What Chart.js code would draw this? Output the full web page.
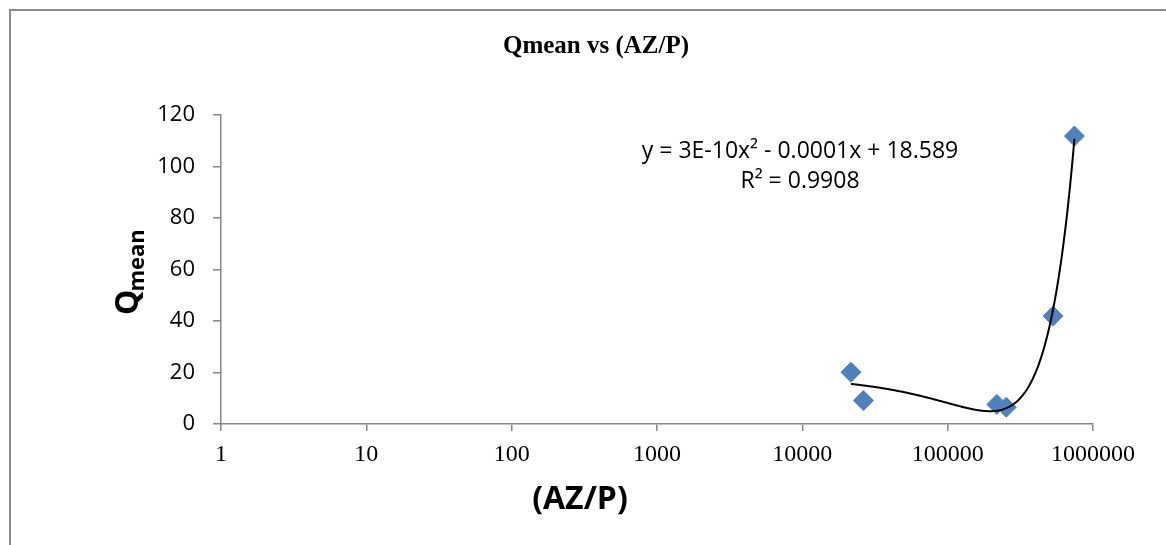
<!DOCTYPE html>
<html>
<head>
<meta charset="utf-8">
<title>Qmean vs (AZ/P)</title>
<script src="https://cdn.jsdelivr.net/npm/chart.js@4.4.1/dist/chart.umd.min.js"></script>
<style>
  html, body { margin: 0; padding: 0; background: #ffffff; }
  #wrap { position: relative; width: 1166px; height: 545px; }
</style>
</head>
<body>
<div id="wrap"><canvas id="chart"></canvas></div>
<script>
// values
const azp = [21600, 26300, 218000, 253000, 531000, 745000];
const qMean = [20.1, 9.1, 7.6, 6.5, 41.9, 111.8];
const xTicks = [1, 10, 100, 1000, 10000, 100000, 1000000];
const yTicks = [0, 20, 40, 60, 80, 100, 120];
const trendText = ['y = 3E-10x² - 0.0001x + 18.589', 'R² = 0.9908'];

const SANS = "'Open Sans', 'DejaVu Sans', sans-serif";
const SERIF = "'Liberation Serif', 'DejaVu Serif', serif";
const AXIS = '#868686';
const MARKER = '#4F81BD';

// least squares quadratic through the points (Excel's poly trendline)
function quadFit(xs, ys) {
  let s = [0, 0, 0, 0, 0], t = [0, 0, 0];
  xs.forEach((x, i) => {
    for (let k = 0; k < 5; k++) s[k] += Math.pow(x, k);
    for (let k = 0; k < 3; k++) t[k] += Math.pow(x, k) * ys[i];
  });
  const m = [[s[0], s[1], s[2]], [s[1], s[2], s[3]], [s[2], s[3], s[4]]];
  const det = a => a[0][0] * (a[1][1] * a[2][2] - a[1][2] * a[2][1])
    - a[0][1] * (a[1][0] * a[2][2] - a[1][2] * a[2][0])
    + a[0][2] * (a[1][0] * a[2][1] - a[1][1] * a[2][0]);
  const d = det(m);
  return [0, 1, 2].map(c => det(m.map((row, r) => row.map((v, j) => (j === c ? t[r] : v)))) / d);
}

const coef = quadFit(azp, qMean);
const lo = Math.log10(Math.min(...azp));
const hi = Math.log10(Math.max(...azp));
const trend = [];
for (let i = 0; i <= 200; i++) {
  const x = Math.pow(10, lo + (hi - lo) * i / 200);
  trend.push({ x: x, y: coef[0] + coef[1] * x + coef[2] * x * x });
}

const textPlugin = {
  id: 'excelText',
  afterDraw(chart) {
    const ctx = chart.ctx;
    ctx.save();
    // outer frame of the chart object
    ctx.strokeStyle = '#8a8a8a';
    ctx.lineWidth = 2;
    ctx.beginPath();
    ctx.moveTo(10, chart.height);
    ctx.lineTo(10, 10);
    ctx.lineTo(chart.width, 10);
    ctx.stroke();

    ctx.fillStyle = '#000';
    ctx.textAlign = 'center';
    ctx.textBaseline = 'middle';

    ctx.font = 'bold 25px ' + SERIF;
    ctx.fillText('Qmean vs (AZ/P)', 596, 47);

    ctx.font = '23px ' + SANS;
    ctx.fillText(trendText[0], 800, 151);
    ctx.fillText(trendText[1], 800, 181);

    ctx.font = 'bold 32px ' + SANS;
    ctx.fillText('(AZ/P)', 580, 500);

    // rotated axis title with subscript
    ctx.translate(138, 315);
    ctx.rotate(-Math.PI / 2);
    ctx.textAlign = 'left';
    ctx.textBaseline = 'alphabetic';
    ctx.font = 'bold 32px ' + SANS;
    ctx.fillText('Q', 0, 0);
    const qw = ctx.measureText('Q').width;
    ctx.font = 'bold 22px ' + SANS;
    ctx.fillText('mean', qw - 2, 6);
    ctx.restore();
  }
};

new Chart(document.getElementById('chart'), {
  type: 'scatter',
  data: {
    datasets: [
      {
        label: 'Poly. (Qmean)',
        data: trend,
        showLine: true,
        borderColor: '#000000',
        borderWidth: 2,
        pointRadius: 0,
        tension: 0,
        order: 0
      },
      {
        label: 'Qmean',
        data: azp.map((x, i) => ({ x: x, y: qMean[i] })),
        pointStyle: 'rectRot',
        pointRadius: 10,
        backgroundColor: MARKER,
        borderColor: MARKER,
        borderWidth: 1,
        order: 1
      }
    ]
  },
  options: {
    responsive: true,
    maintainAspectRatio: false,
    animation: false,
    layout: { padding: { left: 0, top: 115, right: 73, bottom: 0 } },
    plugins: {
      legend: { display: false },
      tooltip: { enabled: false },
      title: { display: false }
    },
    scales: {
      x: {
        type: 'logarithmic',
        min: 1,
        max: 1000000,
        afterBuildTicks: (scale) => { scale.ticks = xTicks.map(v => ({ value: v })); },
        afterFit: (scale) => { scale.height = 121; },
        border: { color: AXIS, width: 1.5 },
        grid: { drawOnChartArea: false, drawTicks: true, tickLength: 7, color: AXIS, lineWidth: 1.5 },
        ticks: {
          color: '#000',
          padding: 9,
          autoSkip: false,
          maxRotation: 0,
          font: { family: SERIF, size: 24 },
          callback: (v) => String(v)
        }
      },
      y: {
        min: 0,
        max: 120,
        afterBuildTicks: (scale) => { scale.ticks = yTicks.map(v => ({ value: v })); },
        afterFit: (scale) => { scale.width = 221; },
        border: { color: AXIS, width: 1.5 },
        grid: { drawOnChartArea: false, drawTicks: true, tickLength: 8, color: AXIS, lineWidth: 1.5 },
        ticks: {
          color: '#000',
          padding: 18,
          font: { family: SANS, size: 22 },
          callback: (v) => String(v)
        }
      }
    }
  },
  plugins: [textPlugin]
});
</script>
</body>
</html>
